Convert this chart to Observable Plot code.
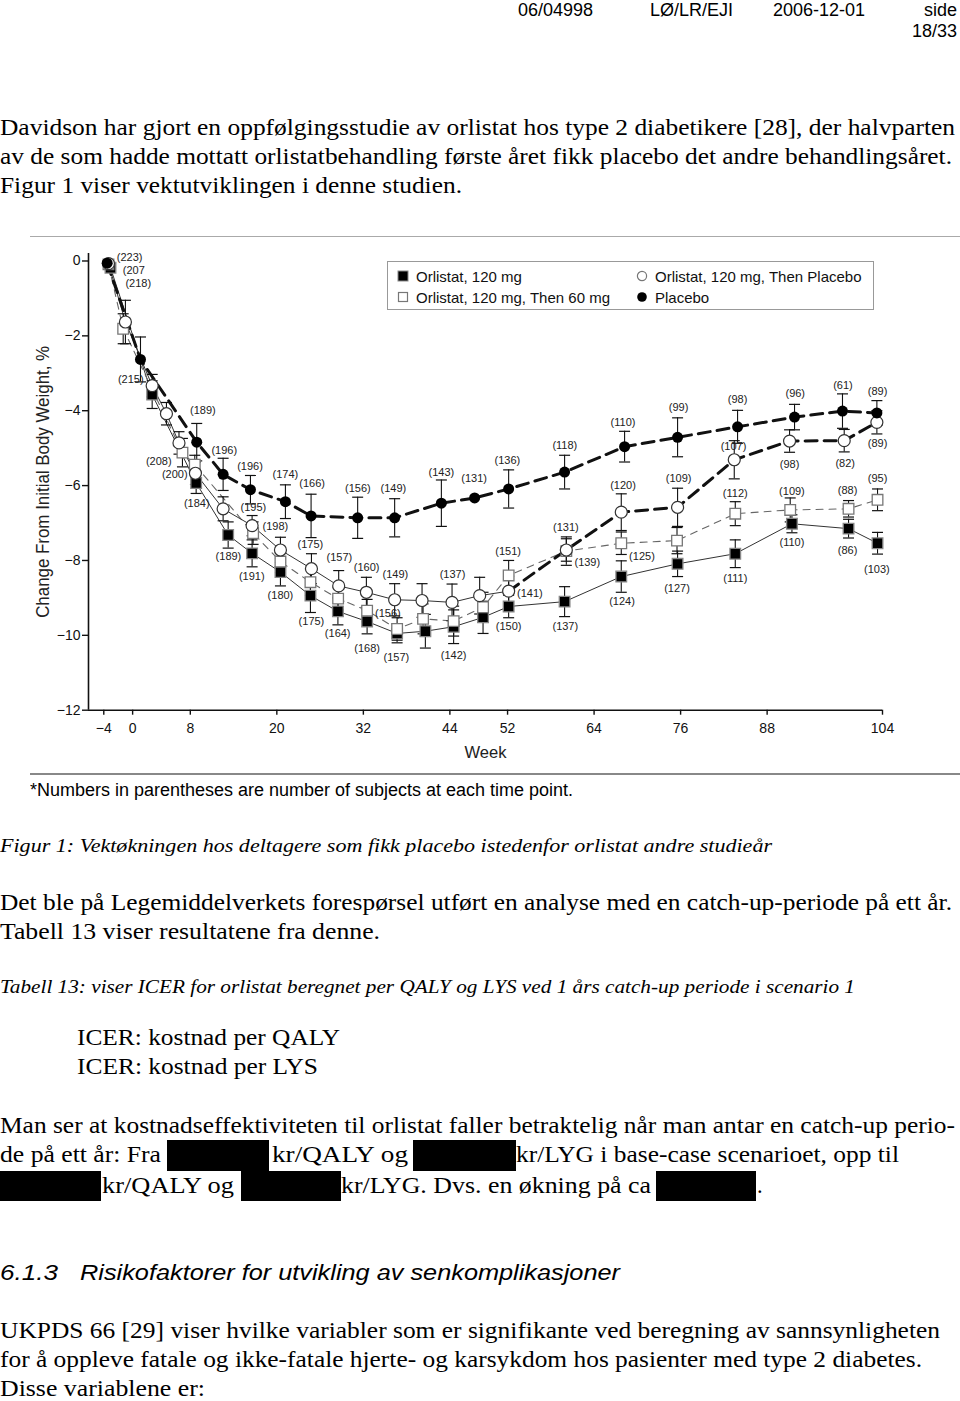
<!DOCTYPE html>
<html><head><meta charset="utf-8">
<script src="https://cdn.jsdelivr.net/npm/d3@7"></script>
<script src="https://cdn.jsdelivr.net/npm/@observablehq/plot@0.6"></script>
<style>
html,body{margin:0;padding:0;background:#fff;}
#page{position:relative;width:960px;height:1401px;overflow:hidden;background:#fff;color:#000;}
.t{position:absolute;white-space:nowrap;transform-origin:0 0;line-height:1;}
.serif{font-family:"Liberation Serif","Times New Roman",serif;font-size:22.5px;}
.small{font-size:19.5px;}
.it{font-style:italic;}
.sans{font-family:"Liberation Sans",Arial,sans-serif;}
.box{position:absolute;background:#000;}
#chart{position:absolute;left:0;top:236px;}
#legend{position:absolute;left:387px;top:261px;width:487px;height:49px;border:1px solid #999;box-sizing:border-box;background:#fff;font-family:"Liberation Sans",Arial,sans-serif;font-size:15px;color:#111;}
#legend .it2{position:absolute;white-space:nowrap;line-height:1;}
#legend svg{position:absolute;}
</style></head>
<body><div id="page">
<div class="t sans" style="font-size:18px" data-x="518" data-cy="10">06/04998</div>
<div class="t sans" style="font-size:18px" data-x="650" data-cy="10">LØ/LR/EJI</div>
<div class="t sans" style="font-size:18px" data-x="773" data-cy="10">2006-12-01</div>
<div class="t sans" style="font-size:18px" data-r="957" data-cy="10">side</div>
<div class="t sans" style="font-size:18px" data-r="957" data-cy="31">18/33</div>

<div class="t serif" data-x="0" data-w="955" data-cy="128">Davidson har gjort en oppfølgingsstudie av orlistat hos type 2 diabetikere [28], der halvparten</div>
<div class="t serif" data-x="0" data-w="952" data-cy="157">av de som hadde mottatt orlistatbehandling første året fikk placebo det andre behandlingsåret.</div>
<div class="t serif" data-x="0" data-w="462" data-cy="186">Figur 1 viser vektutviklingen i denne studien.</div>

<div style="position:absolute;left:30px;top:236px;width:930px;height:1px;background:#aaa"></div>
<div id="chart"></div>
<div id="legend"></div>
<div style="position:absolute;left:30px;top:773px;width:930px;height:2px;background:#888"></div>
<div class="t sans" id="foot" style="font-size:18px" data-x="30" data-w="543" data-cy="790">*Numbers in parentheses are number of subjects at each time point.</div>

<div class="t serif small it" data-x="0" data-w="772" data-cy="846">Figur 1: Vektøkningen hos deltagere som fikk placebo istedenfor orlistat andre studieår</div>
<div class="t serif" data-x="0" data-w="952" data-cy="903">Det ble på Legemiddelverkets forespørsel utført en analyse med en catch-up-periode på ett år.</div>
<div class="t serif" data-x="0" data-w="380" data-cy="932">Tabell 13 viser resultatene fra denne.</div>
<div class="t serif small it" data-x="0" data-w="855" data-cy="987">Tabell 13: viser ICER for orlistat beregnet per QALY og LYS ved 1 års catch-up periode i scenario 1</div>
<div class="t serif" data-x="77" data-w="263" data-cy="1038">ICER: kostnad per QALY</div>
<div class="t serif" data-x="77" data-w="241" data-cy="1067">ICER: kostnad per LYS</div>

<div class="t serif" data-x="0" data-w="955" data-cy="1126">Man ser at kostnadseffektiviteten til orlistat faller betraktelig når man antar en catch-up perio-</div>
<div class="t serif" data-x="0" data-w="161" data-cy="1155">de på ett år: Fra</div>
<div class="box" style="left:167px;top:1140px;width:102px;height:31px"></div>
<div class="t serif" data-x="272" data-w="136" data-cy="1155">kr/QALY og</div>
<div class="box" style="left:413px;top:1140px;width:103px;height:31px"></div>
<div class="t serif" data-x="516" data-w="383" data-cy="1155">kr/LYG i base-case scenarioet, opp til</div>
<div class="box" style="left:0px;top:1171px;width:101px;height:30px"></div>
<div class="t serif" data-x="102" data-w="132" data-cy="1186">kr/QALY og</div>
<div class="box" style="left:241px;top:1171px;width:100px;height:30px"></div>
<div class="t serif" data-x="341" data-w="310" data-cy="1186">kr/LYG. Dvs. en økning på ca</div>
<div class="box" style="left:656px;top:1171px;width:100px;height:30px"></div>
<div class="t serif" data-x="757" data-cy="1186">.</div>

<div class="t sans it" style="font-size:22px" data-x="0" data-w="58" data-cy="1273">6.1.3</div>
<div class="t sans it" style="font-size:22px" data-x="80" data-w="540" data-cy="1273">Risikofaktorer for utvikling av senkomplikasjoner</div>

<div class="t serif" data-x="0" data-w="940" data-cy="1331">UKPDS 66 [29] viser hvilke variabler som er signifikante ved beregning av sannsynligheten</div>
<div class="t serif" data-x="0" data-w="922" data-cy="1360">for å oppleve fatale og ikke-fatale hjerte- og karsykdom hos pasienter med type 2 diabetes.</div>
<div class="t serif" data-x="0" data-w="205" data-cy="1389">Disse variablene er:</div>
</div>
<script>
// ---------- data ----------
const seriesNames = ["Orlistat, 120 mg", "Orlistat, 120 mg, Then 60 mg", "Orlistat, 120 mg, Then Placebo", "Placebo"];
const xTicks = [-4, 0, 8, 20, 32, 44, 52, 64, 76, 88, 104];
const yTicks = [0, -2, -4, -6, -8, -10, -12];

// Orlistat 120 mg (filled squares)
const sqWeeks  = [-3.07, 2.71, 8.81, 13.25, 16.57, 20.5, 24.66, 28.47, 32.52, 36.68, 40.6, 44.52, 48.6, 52.15, 59.91, 67.77, 75.58, 83.58, 91.44, 99.29, 103.31];
const sqValues = [-0.18, -3.57, -5.93, -7.32, -7.81, -8.31, -8.94, -9.36, -9.63, -9.95, -9.89, -9.77, -9.52, -9.23, -9.10, -8.43, -8.09, -7.82, -7.02, -7.15, -7.54];
const sqSE     = [0, 0.37, 0.28, 0.35, 0.36, 0.37, 0.45, 0.36, 0.33, 0.25, 0.45, 0.45, 0.43, 0.3, 0.4, 0.42, 0.34, 0.37, 0.24, 0.25, 0.29];

// Orlistat 120 mg then 60 mg (open squares)
const osWeeks  = [-3.35, -1.31, 6.91, 8.62, 16.71, 20.5, 24.66, 28.5, 32.52, 36.68, 40.28, 44.52, 48.6, 52.15, 60.15, 67.77, 75.5, 83.58, 91.2, 99.29, 103.31];
const osValues = [-0.09, -1.81, -5.12, -5.44, -7.27, -8.03, -8.58, -9.02, -9.34, -9.83, -9.56, -9.62, -9.25, -8.40, -7.75, -7.54, -7.47, -6.75, -6.65, -6.62, -6.38];
const osSE     = [0, 0.4, 0.38, 0.25, 0.3, 0.3, 0.35, 0.3, 0.3, 0.3, 0.4, 0.4, 0.4, 0.4, 0.38, 0.3, 0.35, 0.32, 0.32, 0.22, 0.29];

// Orlistat 120 mg then placebo (open circles)
const ocWeeks  = [-3.35, -1.0, 2.71, 4.69, 6.43, 8.71, 12.55, 16.57, 20.5, 24.8, 28.58, 32.42, 36.34, 40.14, 44.3, 48.13, 52.15, 60.15, 67.77, 75.58, 83.44, 91.11, 98.69, 103.22];
const ocValues = [-0.07, -1.63, -3.33, -4.08, -4.86, -5.67, -6.62, -7.07, -7.72, -8.22, -8.68, -8.85, -9.05, -9.07, -9.12, -8.94, -8.82, -7.72, -6.71, -6.58, -5.31, -4.81, -4.80, -4.31];
const ocSE     = [0, 0.58, 0.3, 0.3, 0.3, 0.3, 0.32, 0.27, 0.34, 0.4, 0.41, 0.4, 0.43, 0.45, 0.49, 0.49, 0.4, 0.3, 0.49, 0.51, 0.51, 0.3, 0.3, 0.31];

// Placebo (filled circles)
const pcWeeks  = [-3.53, 1.09, 8.89, 12.55, 16.34, 21.19, 24.75, 31.21, 36.34, 42.82, 47.43, 52.15, 59.91, 68.23, 75.58, 83.90, 91.80, 98.45, 103.22];
const pcValues = [-0.06, -2.63, -4.84, -5.70, -6.11, -6.43, -6.81, -6.86, -6.86, -6.47, -6.33, -6.09, -5.64, -4.96, -4.71, -4.43, -4.17, -4.01, -4.06];
const pcSE     = [0, 0.6, 0.5, 0.43, 0.38, 0.45, 0.58, 0.55, 0.51, 0.62, 0, 0.51, 0.45, 0.41, 0.52, 0.44, 0.34, 0.46, 0.33];

// numbers of subjects: [text, week, change]
const nLabels = [
  ["(223)", -0.41, 0.10], ["(207", 0.16, -0.25], ["(218)", 0.78, -0.61], ["(215)", -0.26, -3.17],
  ["(189)", 9.75, -3.98], ["(196)", 12.71, -5.06], ["(196)", 16.28, -5.50], ["(174)", 21.19, -5.71],
  ["(166)", 24.89, -5.95], ["(208)", 3.63, -5.35], ["(200)", 5.84, -5.70], ["(184)", 8.89, -6.47],
  ["(195)", 16.75, -6.58], ["(189)", 13.29, -7.89], ["(198)", 19.80, -7.09], ["(191)", 16.52, -8.43],
  ["(180)", 20.5, -8.94], ["(175)", 24.66, -7.57], ["(175)", 24.80, -9.64], ["(156)", 31.24, -6.09],
  ["(149)", 36.16, -6.09], ["(143)", 42.82, -5.64], ["(131)", 47.37, -5.82], ["(136)", 51.97, -5.33],
  ["(118)", 59.94, -4.93], ["(157)", 28.68, -7.93], ["(160)", 32.46, -8.20], ["(149)", 36.44, -8.38],
  ["(137)", 44.37, -8.38], ["(151)", 52.08, -7.75], ["(131)", 60.08, -7.13], ["(139)", 63.06, -8.06],
  ["(141)", 55.09, -8.88], ["(156)", 35.40, -9.41], ["(164)", 28.44, -9.96], ["(168)", 32.52, -10.36],
  ["(157)", 36.58, -10.60], ["(142)", 44.52, -10.54], ["(150)", 52.15, -9.76], ["(137)", 60.01, -9.76],
  ["(110)", 68.01, -4.31], ["(99)", 75.72, -3.92], ["(98)", 83.9, -3.71], ["(96)", 91.9, -3.55],
  ["(61)", 98.51, -3.33], ["(89)", 103.31, -3.48], ["(120)", 68.01, -6.00], ["(109)", 75.72, -5.82],
  ["(107)", 83.34, -4.96], ["(98)", 91.11, -5.44], ["(82)", 98.83, -5.42], ["(89)", 103.31, -4.88],
  ["(95)", 103.31, -5.82], ["(112)", 83.58, -6.22], ["(109)", 91.44, -6.15], ["(88)", 99.15, -6.13],
  ["(125)", 70.64, -7.89], ["(124)", 67.87, -9.09], ["(127)", 75.5, -8.74], ["(111)", 83.58, -8.49],
  ["(110)", 91.44, -7.51], ["(86)", 99.15, -7.72], ["(103)", 103.22, -8.25]
];

// ---------- page text placement ----------
document.querySelectorAll(".t").forEach(el => {
  const fs = parseFloat(getComputedStyle(el).fontSize);
  el.style.top = (+el.dataset.cy - 0.5 * fs) + "px";
  const w = el.getBoundingClientRect().width;
  const s = el.dataset.w ? (+el.dataset.w) / w : 1;
  el.style.transform = `scaleX(${s})`;
  el.style.left = (el.dataset.r ? (+el.dataset.r - w * s) : (+el.dataset.x || 0)) + "px";
});

// ---------- chart ----------
const rows = (w, v, s) => w.map((d, i) => ({week: d, change: v[i], se: s[i]}));
const sq = rows(sqWeeks, sqValues, sqSE);
const os = rows(osWeeks, osValues, osSE);
const oc = rows(ocWeeks, ocValues, ocSE);
const pc = rows(pcWeeks, pcValues, pcSE);
const ocFirst = oc.filter(d => d.week <= 53);
const ocSecond = oc.filter(d => d.week >= 52);

const cap = {draw(ctx, size) { const r = Math.sqrt(size / Math.PI); ctx.moveTo(-r, 0); ctx.lineTo(r, 0); }};
const minus = d => d < 0 ? "\u2212" + Math.abs(d) : String(d);
const xMin = -6.12;

function bars(data) {
  const d = data.filter(e => e.se > 0);
  return [
    Plot.ruleX(d, {x: "week", y1: e => e.change - e.se, y2: e => e.change + e.se, stroke: "#111", strokeWidth: 1.1}),
    Plot.dot(d, {x: "week", y: e => e.change + e.se, symbol: cap, r: 5.5, stroke: "#111", strokeWidth: 1.2, fill: "none"}),
    Plot.dot(d, {x: "week", y: e => e.change - e.se, symbol: cap, r: 5.5, stroke: "#111", strokeWidth: 1.2, fill: "none"})
  ];
}

const chart = Plot.plot({
  width: 960, height: 540,
  marginLeft: 88, marginRight: 78, marginTop: 17, marginBottom: 66.3,
  x: {domain: [xMin, 104]},
  y: {domain: [-12, 0.2]},
  style: {fontFamily: "'Liberation Sans', Arial, sans-serif", fontSize: "14px", background: "transparent", color: "#111", overflow: "visible"},
  marks: [
    Plot.ruleY([-12], {stroke: "#111", strokeWidth: 1.6}),
    Plot.ruleX([xMin], {stroke: "#111", strokeWidth: 1.6}),
    Plot.axisX(xTicks, {tickSize: 5, tickPadding: 8, tickFormat: minus, label: null, fontSize: 14, stroke: "#111", strokeWidth: 1.4}),
    Plot.axisY(yTicks, {tickSize: 6, tickPadding: 2, tickFormat: minus, label: null, fontSize: 14, stroke: "#111", strokeWidth: 1.4}),
    Plot.text(["Week"], {frameAnchor: "bottom", dy: 42, lineAnchor: "middle", textAnchor: "middle", fontSize: 17, fill: "#222"}),
    Plot.text(["Change From Initial Body Weight, %"], {frameAnchor: "left", dx: -46, rotate: -90, textAnchor: "middle", lineAnchor: "middle", fontSize: 19, fill: "#222"}),
    Plot.line(sq, {x: "week", y: "change", stroke: "#333", strokeWidth: 1}),
    Plot.line(os, {x: "week", y: "change", stroke: "#666", strokeWidth: 1.1, strokeDasharray: "7,6"}),
    Plot.line(ocFirst, {x: "week", y: "change", stroke: "#333", strokeWidth: 1}),
    Plot.line(ocSecond, {x: "week", y: "change", stroke: "#111", strokeWidth: 3, strokeDasharray: "12,7"}),
    Plot.line(pc, {x: "week", y: "change", stroke: "#111", strokeWidth: 3, strokeDasharray: "12,7"}),
    ...bars(sq), ...bars(os), ...bars(oc), ...bars(pc),
    Plot.dot(sq, {x: "week", y: "change", symbol: "square", r: 6, fill: "#000", stroke: "#888", strokeWidth: 1.3}),
    Plot.dot(os, {x: "week", y: "change", symbol: "square", r: 6, fill: "#fff", stroke: "#777", strokeWidth: 1.3}),
    Plot.dot(oc, {x: "week", y: "change", symbol: "circle", r: 6, fill: "#fff", stroke: "#333", strokeWidth: 1.2}),
    Plot.dot(pc, {x: "week", y: "change", symbol: "circle", r: 5.5, fill: "#000"}),
    Plot.text(nLabels, {x: d => d[1], y: d => d[2], text: d => d[0], fontSize: 11, fill: "#222"})
  ]
});
document.getElementById("chart").appendChild(chart);
chart.querySelectorAll("text").forEach(t => {
  if (t.textContent === "Change From Initial Body Weight, %") { t.setAttribute("textLength", 272); t.setAttribute("lengthAdjust", "spacingAndGlyphs"); }
  if (t.textContent === "Week") { t.setAttribute("textLength", 42); t.setAttribute("lengthAdjust", "spacingAndGlyphs"); }
});

// ---------- legend ----------
const lg = document.getElementById("legend");
const sym = {
  [seriesNames[0]]: '<rect x="1" y="1" width="10" height="10" fill="#000" stroke="#888"/>',
  [seriesNames[1]]: '<rect x="1.5" y="1.5" width="9" height="9" fill="#fff" stroke="#777" stroke-width="1.2"/>',
  [seriesNames[2]]: '<circle cx="6" cy="6" r="4.6" fill="#fff" stroke="#777" stroke-width="1.2"/>',
  [seriesNames[3]]: '<circle cx="6" cy="6" r="4.8" fill="#000"/>'
};
const slots = [[9, 8], [9, 29], [248, 8], [248, 29]];
seriesNames.forEach((name, i) => {
  const [x, y] = slots[i];
  lg.insertAdjacentHTML("beforeend",
    `<svg width="12" height="12" style="left:${x}px;top:${y}px">${sym[name]}</svg>` +
    `<div class="it2" style="left:${x + 19}px;top:${y - 1}px">${name}</div>`);
});
</script>
</body></html>
